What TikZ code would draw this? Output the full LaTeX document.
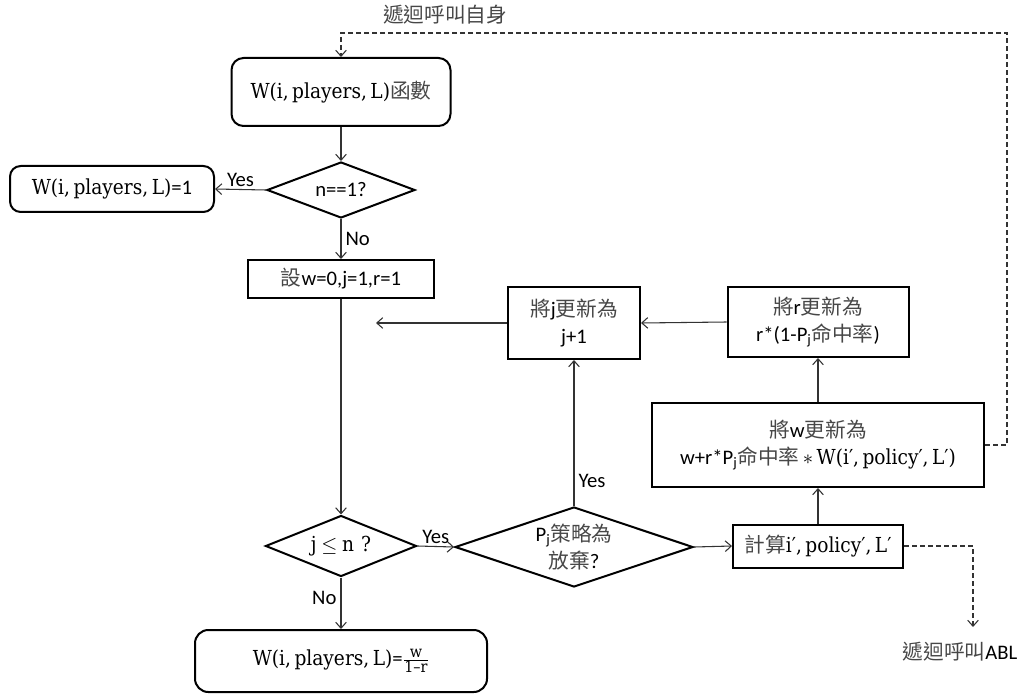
\RequirePackage{fix-cm}
\documentclass[tikz,border=0pt]{standalone}
\usepackage{fontspec}
\setmainfont{Carlito}
\newfontfamily\cjkfont{Noto Sans CJK TC}
\newfontfamily\serifrm[FakeStretch=0.9]{DejaVu Serif}
\usetikzlibrary{shapes.geometric,arrows.meta}
\newcommand\zh[1]{{\cjkfont\color{black!72}#1}}
\newcommand\sr[1]{{\serifrm #1}}
\newcommand\smallsr[1]{\hbox{\fontsize{12}{13}\selectfont\serifrm #1}}

\tikzset{
  txt/.style={font=\fontsize{15.5}{20.5}\selectfont},
  base/.style={txt, draw=black, line width=1.5pt, inner sep=0pt, align=center},
  procbox/.style={base, rectangle},
  termbox/.style={base, rectangle, rounded corners=8pt},
  decision/.style={base, diamond},
  inside/.style={txt, align=center, inner sep=0pt},
  conn/.style={draw=black!80, line width=0.8pt, -{Straight Barb[length=4.5pt,width=8pt]}},
  dsh/.style={draw=black!80, line width=0.8pt, dash pattern=on 3.5pt off 2.5pt,
              -{Straight Barb[length=4.5pt,width=8pt]}},
  lbl/.style={txt, inner sep=1pt}
}

\begin{document}
\begin{tikzpicture}[x=0.75pt, y=-0.75pt]
  \path[use as bounding box] (0,0) rectangle (1030,695);

  % main column
  \node[termbox, rounded corners=9pt, minimum width=164.25pt, minimum height=51pt]
       (top) at (341,92) {\sr{W(i,\,players,\,L)}\zh{函數}};
  \node[decision, minimum width=111pt, minimum height=42pt,
        label={[inside]center:n==1?}]
       (n1) at (341,190) {};
  \node[termbox, minimum width=153pt, minimum height=34.5pt]
       (w1) at (112,189) {\sr{W(i,\,players,\,L)}=1};
  \node[procbox, minimum width=139.5pt, minimum height=28.5pt]
       (init) at (341,279) {\zh{設}w=0,j=1,r=1};
  \node[decision, minimum width=113.25pt, minimum height=45.75pt,
        label={[inside]center:\sr{j} $\leq$ \sr{n\,\,?}}]
       (jn) at (341,546) {};
  \node[termbox, rounded corners=10pt, minimum width=219pt, minimum height=46.5pt]
       (final) at (341,661)
       {\sr{W(i,\,players,\,L)}=$\frac{\smallsr{w}}{\smallsr{1{\textendash}r}}$};

  % loop body
  \node[decision, minimum width=178.5pt, minimum height=60pt,
        label={[inside]center:P\textsubscript{j}\zh{策略為}\\\zh{放棄}?}]
       (pj) at (574,547) {};
  \node[procbox, minimum width=99pt, minimum height=54pt]
       (jup) at (574,323) {\zh{將}j\zh{更新為}\\j+1};
  \node[procbox, minimum width=135.75pt, minimum height=52.5pt]
       (rup) at (818,322) {\zh{將}r\zh{更新為}\\r*(1-P\textsubscript{j}\zh{命中率})};
  \node[procbox, minimum width=249pt, minimum height=63pt]
       (wup) at (818,445)
       {\zh{將}w\zh{更新為}\\w+r*P\textsubscript{j}\zh{命中率}\,$\ast$\,\sr{W(i′,\,policy′,\,L′)}};
  \node[procbox, minimum width=127.5pt, minimum height=32.25pt]
       (calc) at (818,546) {\zh{計算}\sr{i′,\,policy′,\,L′}};

  % free ends and labels
  \coordinate (jback) at (376,323);
  \coordinate (loopR) at (1007,33);
  \coordinate (ablEnd) at (973,627);
  \node[lbl] (selfcall) at (445,15) {\zh{遞迴呼叫自身}};
  \node[lbl] (ablcall) at (960,652) {\zh{遞迴呼叫}ABL};

  % connectors
  \draw[conn] (top) -- (n1);
  \draw[conn] (n1.west) -- node[lbl, above=1pt] {Yes} (w1.east);
  \draw[conn] (n1.south) -- node[lbl, right=2pt] {No} (init.north);
  \draw[conn] (init.south) -- (jn.north);
  \draw[conn] (jn.east) -- node[lbl, above=1pt] {Yes} (pj.west);
  \draw[conn] (jn.south) -- node[lbl, left=2pt, pos=0.4] {No} (final.north);
  \draw[conn] (pj.north) -- node[lbl, right=2pt, pos=0.17] {Yes} (jup.south);
  \draw[conn] (jup.west) -- (jback);
  \draw[conn] (rup.west) -- (jup.east);
  \draw[conn] (wup.north) -- (rup.south);
  \draw[conn] (calc.north) -- (wup.south);
  \draw[conn] (pj.east) -- (calc.west);

  % recursive calls
  \draw[dsh] (wup.east) -| (loopR) -| (top.north);
  \draw[dsh] (calc.east) -| (ablEnd);
\end{tikzpicture}
\end{document}
